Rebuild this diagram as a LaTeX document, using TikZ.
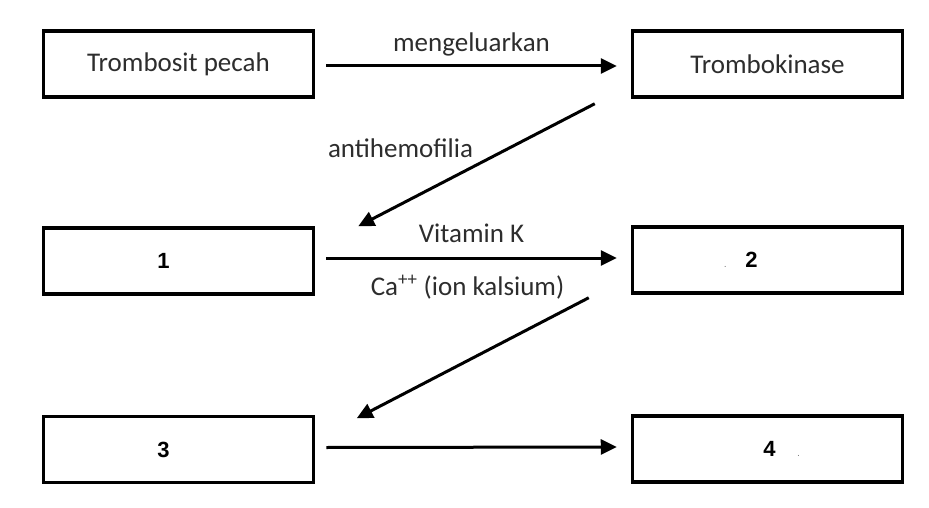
\documentclass[tikz,border=0pt]{standalone}
\usepackage{fontspec}
\setmainfont{Carlito}
\newfontfamily\digitfont{Liberation Sans}
\usetikzlibrary{arrows.meta,calc}
\definecolor{labelgray}{RGB}{45,45,45}

\begin{document}
\begin{tikzpicture}[x=1pt,y=-1pt,
  box/.style={draw, line width=3.5pt, minimum width=270pt, minimum height=66pt, inner sep=0pt,
    font=\fontsize{27}{30}\selectfont, text=labelgray},
  numbox/.style={box, font=\digitfont\fontsize{22}{24}\selectfont\bfseries, text=black},
  flow/.style={line width=3pt, -{Triangle[length=16pt,width=15pt]}},
  lbl/.style={font=\fontsize{27}{30}\selectfont, text=labelgray, inner sep=0pt}]
\useasboundingbox (0,0) rectangle (929,508);

% boxes
\node[box] (pecah) at (178.5,64) {Trombosit pecah};
\node[box] (kinase) at (767.5,64) {Trombokinase};
\node[numbox] (n1) at (178.5,261) {1\kern30pt};
\node[numbox] (n2) at (767.5,260) {{\color{gray}\scriptsize .}\kern19pt 2\kern53pt};
\node[numbox] (n3) at (178.5,449.5) {3\kern30pt};
\node[numbox] (n4) at (767.5,449) {\kern28pt 4\kern22pt{\color{gray}\scriptsize .}};

% arrows
\draw[flow] ($(pecah.east)+(11,2)$) -- node[lbl, midway, yshift=22pt]{mengeluarkan} ($(kinase.west)+(-14,2)$);
\draw[flow] ($(kinase.south west)+(-36,5)$) -- node[lbl, midway, xshift=-76pt, yshift=17pt]{antihemofilia} ($(n1.north east)+(43,0)$);
\draw[flow] ($(n1.east)+(11,-3)$) -- node[lbl, midway, yshift=25pt]{Vitamin K}
  node[lbl, midway, xshift=-4pt, yshift=-29pt]{Ca\textsuperscript{++} (ion kalsium)} ($(n2.west)+(-14,-2)$);
\draw[flow] ($(n2.south west)+(-42,3)$) -- ($(n3.north east)+(41.5,3.5)$);
\draw[flow] ($(n3.east)+(11,-2)$) -- ($(n4.west)+(-14,-2)$);
\end{tikzpicture}
\end{document}
